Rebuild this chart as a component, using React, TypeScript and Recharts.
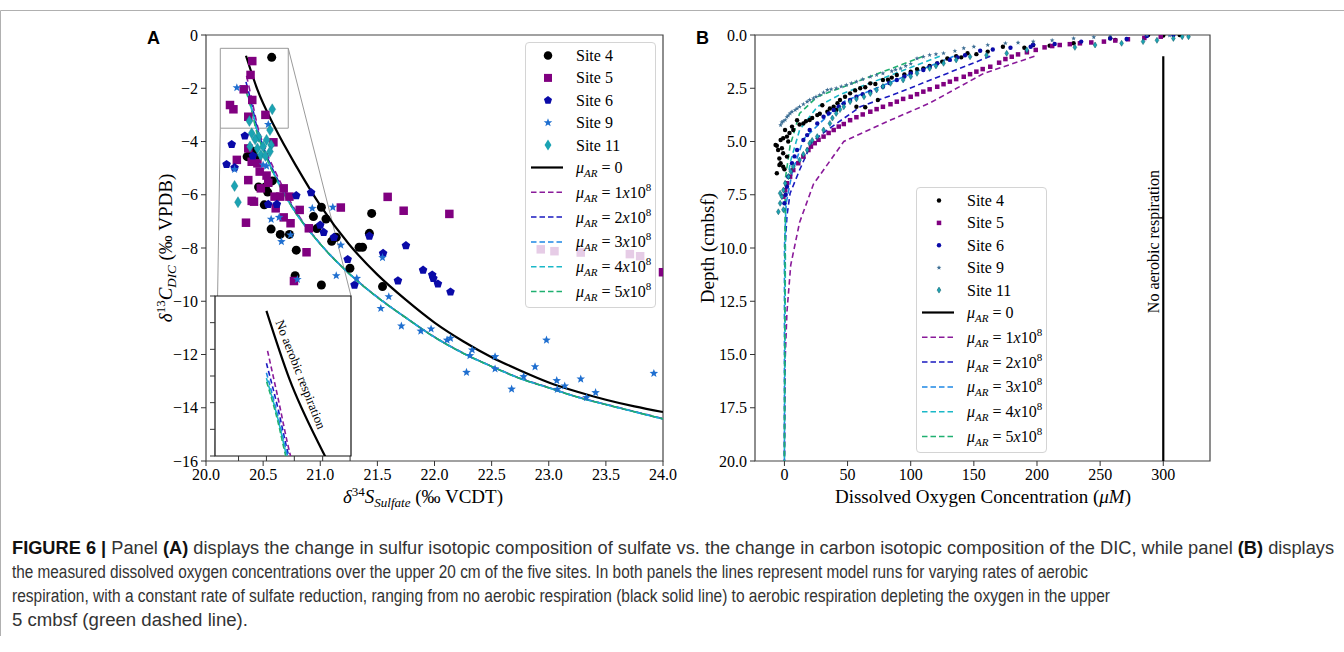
import React from 'react';
import {
  ComposedChart, XAxis, YAxis, Scatter, Line, ReferenceArea, ReferenceLine,
  ReferenceDot, Legend, CartesianGrid,
} from 'recharts';

const SERIF = '"Liberation Serif", "Times New Roman", serif';
const SANS = '"Liberation Sans", Arial, sans-serif';
const NARROW = '"Liberation Sans Narrow", "Liberation Sans", Arial, sans-serif';

// ---------- colours ----------
const C_S4 = '#000000';
const C_S5 = '#800080';
const C_S6 = '#0a0aa8';
const C_S9 = '#1f6fd0';
const C_S11 = '#1ba3b3';
const C_MU0 = '#000000';
const C_MU1 = '#8a1a9a';
const C_MU2 = '#1a1ac0';
const C_MU3 = '#1e88e5';
const C_MU4 = '#1ab8c8';
const C_MU5 = '#1fb070';

// ---------- Panel A : tick labels ----------
const xTicksA = [20, 20.5, 21, 21.5, 22, 22.5, 23, 23.5, 24];
const yTicksA = [0, -2, -4, -6, -8, -10, -12, -14, -16];
const insetXTicks = [20.228, 20.35, 20.472, 20.596, 20.716];
const insetYTicks = [-0.5, -1, -1.5, -2, -2.5, -3, -3.5];

// ---------- Panel A : measured data (d34S sulfate, d13C DIC) ----------
const site4A = [[20.575,-0.84],[20.36,-4.57],[20.39,-4.47],[20.43,-4.62],[20.41,-4.38],[20.46,-5.71],[20.52,-5.71],[20.58,-5.48],[20.51,-6.38],[20.54,-5.9],[20.57,-7.29],[20.65,-7.49],[20.73,-7.49],[20.79,-8.08],[20.78,-9.04],[21.01,-9.39],[20.94,-6.82],[21.01,-6.47],[21.05,-6.91],[20.97,-7.27],[21.1,-7.75],[21.14,-7.6],[21.26,-8.76],[21.34,-7.97],[21.37,-7.97],[21.43,-7.45],[21.45,-6.7],[21.545,-9.45]];
const site5A = [[20.405,-0.98],[20.39,-1.5],[20.33,-2.04],[20.405,-2.44],[20.21,-2.63],[20.24,-2.79],[20.37,-3.07],[20.52,-3.0],[20.37,-4.26],[20.4,-4.76],[20.45,-4.82],[20.47,-5.13],[20.53,-5.28],[20.545,-5.55],[20.37,-5.45],[20.48,-5.76],[20.6,-6.07],[20.65,-6.07],[20.68,-5.76],[20.73,-6.07],[20.4,-6.23],[20.42,-6.26],[20.61,-6.51],[20.82,-6.57],[20.68,-6.85],[20.74,-7.07],[20.35,-7.05],[20.9,-7.26],[21.18,-6.48],[20.88,-8.16],[20.77,-9.24],[21.59,-6.08],[21.73,-6.6],[22.13,-6.72],[22.93,-8.05],[23.05,-8.12],[23.28,-8.17],[23.71,-8.23],[23.8,-8.31],[24.0,-8.91],[20.27,-4.69],[20.59,-4.03]];
const site6A = [[20.225,-4.11],[20.18,-4.86],[20.25,-4.98],[20.34,-3.79],[20.41,-4.54],[20.545,-6.36],[20.62,-6.36],[20.79,-6.03],[20.92,-5.92],[21.0,-7.14],[21.03,-7.41],[21.12,-7.6],[21.24,-8.43],[21.3,-9.39],[21.43,-7.55],[21.55,-8.2],[21.68,-9.23],[21.75,-7.91],[21.9,-8.83],[21.98,-9.01],[21.99,-9.14],[22.03,-9.35],[22.14,-9.65]];
const site9A = [[20.27,-1.98],[20.545,-3.36],[20.5,-4.88],[20.53,-4.92],[20.25,-5.05],[20.57,-6.92],[20.64,-6.85],[20.66,-7.76],[20.74,-7.51],[20.8,-9.18],[20.93,-6.51],[21.11,-6.47],[21.14,-9.04],[21.18,-7.89],[21.32,-9.14],[21.545,-8.36],[21.6,-9.83],[21.53,-10.27],[21.71,-10.93],[21.88,-11.12],[21.97,-11.04],[22.11,-11.46],[22.14,-11.39],[22.33,-11.83],[22.31,-12.04],[22.28,-12.67],[22.53,-12.08],[22.53,-12.54],[22.675,-13.3],[22.78,-12.83],[22.88,-12.46],[22.98,-11.46],[23.07,-12.98],[23.075,-13.31],[23.14,-13.18],[23.28,-12.92],[23.33,-13.62],[23.41,-13.43],[23.92,-12.71]];
const site11A = [[20.58,-2.79],[20.38,-3.23],[20.4,-3.69],[20.46,-3.82],[20.56,-3.57],[20.53,-3.94],[20.57,-4.13],[20.5,-4.19],[20.45,-4.26],[20.385,-4.19],[20.48,-4.51],[20.52,-4.54],[20.25,-5.67],[20.28,-6.28],[20.43,-3.92],[20.56,-4.38]];

// ---------- Panel A : model runs ----------
const mu0A = [[20.35,-0.78],[20.45,-2.05],[20.6,-3.45],[20.8,-5.0],[21.0,-6.4],[21.25,-7.85],[21.5,-9.0],[21.75,-9.95],[22.0,-10.8],[22.25,-11.5],[22.5,-12.1],[22.75,-12.6],[23.0,-13.05],[23.25,-13.4],[23.5,-13.7],[23.75,-13.95],[24.0,-14.16]];
const mu1A = [[20.355,-1.53],[20.4,-2.4],[20.455,-3.49],[20.52,-4.3],[20.62,-5.25],[20.76,-6.42],[21.0,-7.84],[21.25,-8.94],[21.5,-9.84],[21.75,-10.62],[22.0,-11.34],[22.25,-11.94],[22.5,-12.44],[22.75,-12.89],[23.0,-13.24],[23.25,-13.59],[23.5,-13.87],[23.75,-14.14],[24.0,-14.41]];
const mu2A = [[20.35,-1.76],[20.4,-2.6],[20.447,-3.49],[20.51,-4.3],[20.61,-5.28],[20.755,-6.44],[21.0,-7.85],[21.25,-8.95],[21.5,-9.85],[21.75,-10.62],[22.0,-11.35],[22.25,-11.95],[22.5,-12.45],[22.75,-12.9],[23.0,-13.25],[23.25,-13.6],[23.5,-13.88],[23.75,-14.15],[24.0,-14.42]];
const mu3A = [[20.35,-1.94],[20.4,-2.75],[20.442,-3.49],[20.505,-4.3],[20.605,-5.29],[20.752,-6.45],[21.0,-7.85],[21.25,-8.95],[21.5,-9.85],[21.75,-10.62],[22.0,-11.35],[22.25,-11.95],[22.5,-12.45],[22.75,-12.9],[23.0,-13.25],[23.25,-13.6],[23.5,-13.88],[23.75,-14.15],[24.0,-14.42]];
const mu4A = [[20.35,-2.04],[20.4,-2.8],[20.438,-3.49],[20.502,-4.3],[20.602,-5.3],[20.75,-6.45],[21.0,-7.85],[21.25,-8.95],[21.5,-9.85],[21.75,-10.62],[22.0,-11.35],[22.25,-11.95],[22.5,-12.45],[22.75,-12.9],[23.0,-13.25],[23.25,-13.6],[23.5,-13.88],[23.75,-14.15],[24.0,-14.42]];
const mu5A = [[20.351,-2.11],[20.4,-2.85],[20.434,-3.49],[20.5,-4.3],[20.6,-5.3],[20.75,-6.45],[21.0,-7.85],[21.25,-8.95],[21.5,-9.85],[21.75,-10.62],[22.0,-11.35],[22.25,-11.95],[22.5,-12.45],[22.75,-12.9],[23.0,-13.25],[23.25,-13.6],[23.5,-13.88],[23.75,-14.15],[24.0,-14.42]];

// ---------- Panel B : tick labels ----------
const xTicksB = [0, 50, 100, 150, 200, 250, 300];
const yTicksB = [0, 2.5, 5, 7.5, 10, 12.5, 15, 17.5, 20];

// ---------- Panel B : measured O2 (uM, depth cmbsf) ----------
const site4B = [[313,0.0],[300,0.02],[288,0.0],[262,0.23],[258,0.15],[229,0.39],[210,0.5],[197,0.47],[190,0.6],[173,0.55],[161,0.78],[152,0.9],[145,0.86],[140,1.05],[136,0.99],[129,1.1],[125,1.25],[121,1.33],[115,1.45],[110,1.57],[105,1.6],[100,1.72],[95,1.85],[89,1.88],[85,2.0],[82,2.1],[78,2.11],[72,2.3],[68,2.27],[64,2.45],[60,2.5],[56,2.6],[52,2.74],[48,2.9],[44,3.05],[42,3.2],[39,3.37],[36,3.45],[34,3.6],[30,3.3],[28,3.7],[26,3.76],[22,3.9],[20,3.99],[17,4.05],[15,4.15],[12,4.2],[10,4.0],[7,4.46],[6,4.3],[4,4.6],[2,4.77],[0.5,4.46],[-1,4.85],[-3,4.93],[3,5.0],[-7,5.16],[-6,5.2],[-2,5.32],[-5,5.4],[-1,5.55],[2,5.71],[-4,5.8],[-3,6.02],[-1,6.18],[0,6.3],[-6,6.49],[-4,6.1],[74,3.05],[57,3.37],[64,3.39],[41,3.52]];
const site5B = [[298,0.08],[285,0.14],[272,0.2],[262,0.26],[253,0.31],[243,0.35],[234,0.39],[226,0.43],[218,0.47],[212,0.52],[206,0.58],[199,0.7],[192,0.81],[185,0.91],[180,1.02],[175,1.13],[170,1.3],[163,1.49],[157,1.6],[152,1.72],[147,1.84],[142,1.96],[136,2.07],[131,2.19],[126,2.31],[121,2.43],[115,2.55],[110,2.66],[105,2.78],[100,2.9],[94,3.0],[89,3.13],[84,3.25],[78,3.37],[73,3.48],[68,3.6],[62,3.73],[57,3.86],[52,4.0],[47,4.18],[43,4.3],[39,4.46],[35,4.6],[31,4.77],[27,4.92],[24,5.08],[21,5.24],[19,5.4],[15,5.71],[11,6.02],[7,6.34],[4.5,6.65],[2,6.96],[0.6,7.28],[-0.8,7.59]];
const site6B = [[308,0.0],[287,0.05],[271,0.19],[258,0.16],[235,0.31],[214,0.42],[197,0.45],[195,0.55],[179,0.6],[165,0.68],[155,0.74],[143,0.95],[137,1.05],[131,1.17],[121,1.33],[115,1.5],[110,1.64],[100,1.8],[95,1.95],[89,2.11],[83,2.25],[78,2.43],[68,2.66],[62,2.78],[57,2.9],[52,3.05],[47,3.21],[43,3.35],[39,3.52],[35,3.68],[31,3.84],[26,4.15],[20,4.46],[18,4.7],[15,4.93],[10,5.4],[8,5.7],[6,6.02],[3,6.65],[2,7.12],[1,7.5],[0,7.9]];
const site9B = [[320,0.0],[305,0.02],[287,0.0],[258,0.0],[245,0.1],[229,0.16],[212,0.25],[197,0.31],[185,0.36],[175,0.39],[161,0.47],[150,0.55],[142,0.62],[135,0.75],[126,0.86],[120,0.9],[115,0.94],[110,1.02],[105,1.1],[100,1.35],[96,1.45],[92,1.57],[88,1.63],[85,1.7],[78,1.8],[73,1.88],[68,1.96],[62,2.08],[57,2.19],[53,2.27],[49,2.35],[45,2.42],[41,2.5],[37,2.55],[34,2.58],[31,2.7],[28,2.82],[25,2.9],[23,2.97],[20,3.05],[18,3.13],[15,3.25],[12,3.37],[10,3.45],[8.5,3.52],[6,3.6],[4.5,3.68],[3,3.78],[2,3.85],[0.6,3.99],[-1,4.05],[-2,4.1],[-3,4.23]];
const site11B = [[320,0.08],[315,0.08],[308,0.16],[295,0.25],[284,0.31],[267,0.39],[246,0.47],[230,0.58],[192,0.7],[176,0.86],[160,0.95],[147,1.02],[136,1.17],[126,1.33],[120,1.45],[115,1.57],[105,1.8],[100,1.95],[94,2.11],[84,2.27],[78,2.42],[73,2.58],[68,2.75],[63,2.9],[57,3.0],[52,3.13],[47,3.37],[44,3.5],[41,3.68],[38,3.9],[36,4.15],[31,4.46],[26,4.77],[22,4.95],[20,5.08],[18,5.4],[15,5.6],[12,5.87],[7,6.18],[5,6.4],[3.2,6.65],[0.6,6.96],[-0.8,7.28],[-3.4,7.43],[-2,7.59],[-3.4,7.9],[-0.8,8.2],[-4.8,8.3]];

// ---------- Panel B : model runs ----------
const mu0B = [[300,1.0],[300,20]];
const mu1B = [[198,1.0],[158,1.8],[115,3.2],[78,4.15],[47,5.0],[23,7.0],[12,8.8],[5,10.8],[2,13],[0.5,15.4],[0,20]];
const mu2B = [[163,1.0],[89,2.74],[60,3.37],[34,4.46],[22,5.0],[12,6.34],[4.5,7.43],[2,8.5],[0.5,10],[0,20]];
const mu3B = [[134,1.0],[48,3.1],[34,3.8],[15,4.9],[6,6.5],[1.4,7.9],[0,10],[0,20]];
const mu4B = [[123,1.0],[44,2.8],[26,3.37],[12,4.46],[4.5,6.0],[1,7.5],[0,20]];
const mu5B = [[110,1.0],[26,2.9],[12,3.68],[4.5,5.2],[0.6,6.8],[0,20]];

const pts = (a: number[][]) => a.map(([x, y]) => ({ x, y }));

// ---------- markers ----------
type Kind = 'circle' | 'square' | 'pentagon' | 'star' | 'diamond';

function drawMarker(kind: Kind, cx: number, cy: number, s: number, fill: string, stroke = 'none', sw = 0) {
  const common = { fill, stroke, strokeWidth: sw };
  if (kind === 'circle') return <circle cx={cx} cy={cy} r={s / 2} {...common} />;
  if (kind === 'square') return <rect x={cx - s / 2} y={cy - s / 2} width={s} height={s} {...common} />;
  if (kind === 'pentagon') {
    const r = s / 2;
    const p = [0, 1, 2, 3, 4].map((k) => {
      const a = -Math.PI / 2 + (k * 2 * Math.PI) / 5;
      return `${cx + r * Math.cos(a)},${cy + r * Math.sin(a)}`;
    }).join(' ');
    return <polygon points={p} {...common} />;
  }
  if (kind === 'star') {
    const R = s / 2, r = R * 0.42;
    const p = Array.from({ length: 10 }, (_, k) => {
      const a = -Math.PI / 2 + (k * Math.PI) / 5;
      const rr = k % 2 === 0 ? R : r;
      return `${cx + rr * Math.cos(a)},${cy + rr * Math.sin(a)}`;
    }).join(' ');
    return <polygon points={p} {...common} />;
  }
  const w = s * 0.62, h = s;
  return <polygon points={`${cx},${cy - h / 2} ${cx + w / 2},${cy} ${cx},${cy + h / 2} ${cx - w / 2},${cy}`} {...common} />;
}

const shape = (kind: Kind, s: number, fill: string, stroke = 'none', sw = 0) => (p: any) =>
  p.cx == null || p.cy == null ? <g /> : drawMarker(kind, p.cx, p.cy, s, fill, stroke, sw);

// ---------- legend ----------
type Row = { kind?: Kind; color: string; label?: string; mu?: number; dash?: boolean; lw?: number; stroke?: string };
const ROW_Y = [12.5, 34.9, 57.3, 79.7, 102.1, 124.5, 149.3, 174.1, 198.9, 223.7, 248.5];

function MuText({ x, y, n }: { x: number; y: number; n: number }) {
  return (
    <text x={x} y={y} fontFamily={SERIF} fontSize={16} fill="#000">
      <tspan fontStyle="italic">μ</tspan>
      <tspan fontStyle="italic" fontSize={11} dy={4}>AR</tspan>
      <tspan dy={-4}>{n === 0 ? ' = 0' : ` = ${n}`}</tspan>
      {n !== 0 && <tspan fontStyle="italic">x</tspan>}
      {n !== 0 && <tspan>10</tspan>}
      {n !== 0 && <tspan fontSize={11} dy={-7}>8</tspan>}
    </text>
  );
}

function LegendBox({ rows, markerSizes }: { rows: Row[]; markerSizes: number[] }) {
  return (
    <div style={{ width: 131, height: 266, boxSizing: 'border-box', background: 'rgba(255,255,255,0.8)', border: '1px solid #d4d4d4', borderRadius: 4 }}>
      <svg width={129} height={264} style={{ display: 'block' }}>
        {rows.map((r, i) => {
          const cy = ROW_Y[i];
          if (r.kind) {
            return (
              <g key={i}>
                {drawMarker(r.kind, 22, cy, markerSizes[i], r.color, r.stroke || 'none', r.stroke ? 0.5 : 0)}
                <text x={50} y={cy + 5.5} fontFamily={SERIF} fontSize={16} fill="#000">{r.label}</text>
              </g>
            );
          }
          return (
            <g key={i}>
              <line x1={5} x2={37} y1={cy} y2={cy} stroke={r.color} strokeWidth={r.lw || 1.5} strokeDasharray={r.dash ? '5.5 3' : undefined} />
              <MuText x={50} y={cy + 5.5} n={r.mu || 0} />
            </g>
          );
        })}
      </svg>
    </div>
  );
}

const legendRowsA: Row[] = [
  { kind: 'circle', color: C_S4, label: 'Site 4' },
  { kind: 'square', color: C_S5, label: 'Site 5' },
  { kind: 'pentagon', color: C_S6, label: 'Site 6' },
  { kind: 'star', color: C_S9, label: 'Site 9' },
  { kind: 'diamond', color: C_S11, label: 'Site 11' },
  { color: C_MU0, mu: 0, lw: 2.2 },
  { color: C_MU1, mu: 1, dash: true },
  { color: C_MU2, mu: 2, dash: true },
  { color: C_MU3, mu: 3, dash: true },
  { color: C_MU4, mu: 4, dash: true },
  { color: C_MU5, mu: 5, dash: true },
];
const legendRowsB: Row[] = [
  { kind: 'circle', color: C_S4, label: 'Site 4' },
  { kind: 'square', color: C_S5, label: 'Site 5' },
  { kind: 'circle', color: C_S6, label: 'Site 6' },
  { kind: 'star', color: '#3d6e94', label: 'Site 9' },
  { kind: 'diamond', color: C_S11, label: 'Site 11', stroke: '#0c5560' },
  ...legendRowsA.slice(5),
];

const tickStyle = { fontFamily: SERIF, fontSize: 16, fill: '#000' };
const fmtA = (v: number) => (v === 0 ? '0' : `\u2212${Math.abs(v)}`);

// dash styling so that overlapping model runs read as one teal line in the main view
const dashCfgA = [
  { c: C_MU1, off: 0 }, { c: C_MU2, off: 0 }, { c: C_MU3, off: 0 }, { c: C_MU4, off: 5 }, { c: C_MU5, off: 0 },
];
const seriesA = [mu1A, mu2A, mu3A, mu4A, mu5A];
const seriesB = [mu1B, mu2B, mu3B, mu4B, mu5B];

// ---------- Panel A ----------
function PanelA() {
  return (
    <div style={{ position: 'absolute', left: 0, top: 0 }}>
      <ComposedChart width={700} height={520} margin={{ top: 35, right: 37, bottom: 29, left: 146 }}>
        <XAxis type="number" dataKey="x" domain={[20, 24]} ticks={xTicksA} allowDataOverflow
          tickFormatter={(v: number) => v.toFixed(1)} axisLine={false} tickLine={{ stroke: '#333' }}
          tickSize={5} tickMargin={3} tick={tickStyle} height={30} />
        <YAxis type="number" dataKey="y" domain={[-16, 0]} ticks={yTicksA} allowDataOverflow
          tickFormatter={fmtA} axisLine={false} tickLine={{ stroke: '#333' }} tickSize={5} tickMargin={3}
          tick={tickStyle} width={60} />
        <ReferenceArea x1={20.125} x2={20.72} y1={-3.5} y2={-0.5} fill="none" stroke="#9a9a9a" strokeWidth={1} fillOpacity={0} />
        <ReferenceLine segment={[{ x: 20.125, y: -3.5 }, { x: 20.079, y: -15.8 }]} stroke="#9a9a9a" strokeWidth={1} />
        <ReferenceLine segment={[{ x: 20.72, y: -0.5 }, { x: 21.269, y: -9.8 }]} stroke="#9a9a9a" strokeWidth={1} />
        <Scatter name="Site 4" data={pts(site4A)} shape={shape('circle', 9, C_S4)} isAnimationActive={false} />
        <Scatter name="Site 5" data={pts(site5A)} shape={shape('square', 8.5, C_S5)} isAnimationActive={false} />
        <Scatter name="Site 6" data={pts(site6A)} shape={shape('pentagon', 9, C_S6)} isAnimationActive={false} />
        <Scatter name="Site 9" data={pts(site9A)} shape={shape('star', 9, C_S9)} isAnimationActive={false} />
        <Scatter name="Site 11" data={pts(site11A)} shape={shape('diamond', 11, C_S11, '#0f7f8a', 0.4)} isAnimationActive={false} />
        <Line data={pts(mu0A)} dataKey="y" type="monotone" stroke={C_MU0} strokeWidth={2.2} dot={false} isAnimationActive={false} />
        {seriesA.map((d, i) => (
          <Line key={i} data={pts(d)} dataKey="y" type="monotone" stroke={dashCfgA[i].c} strokeWidth={1.6}
            strokeDasharray="6 4" strokeDashoffset={dashCfgA[i].off} dot={false} isAnimationActive={false} />
        ))}
        <ReferenceArea x1={20} x2={24} y1={-16} y2={0} fill="none" fillOpacity={0} stroke="#444" strokeWidth={1.2} />
        <Legend layout="vertical" align="center" verticalAlign="middle"
          wrapperStyle={{ left: 525, top: 42, width: 131, height: 266 }}
          content={() => <LegendBox rows={legendRowsA} markerSizes={[8.5, 8, 8.5, 9, 11, 0, 0, 0, 0, 0, 0]} />} />
      </ComposedChart>
    </div>
  );
}

// ---------- Inset ----------
function Inset() {
  return (
    <div style={{ position: 'absolute', left: 195, top: 290 }}>
      <ComposedChart width={166} height={180} margin={{ top: 6, right: 10, bottom: 4, left: 10 }}>
        <CartesianGrid fill="#ffffff" fillOpacity={1} horizontal={false} vertical={false} />
        <XAxis type="number" dataKey="x" domain={[20.125, 20.72]} ticks={insetXTicks} allowDataOverflow
          tickFormatter={() => ''} axisLine={false} tickLine={{ stroke: '#333' }} tickSize={5} height={10} />
        <YAxis type="number" dataKey="y" domain={[-3.5, -0.5]} ticks={insetYTicks} allowDataOverflow
          tickFormatter={() => ''} axisLine={false} tickLine={{ stroke: '#333' }} tickSize={5} width={10} />
        <Line data={pts(mu0A)} dataKey="y" type="monotone" stroke={C_MU0} strokeWidth={2.2} dot={false} isAnimationActive={false} />
        {seriesA.map((d, i) => (
          <Line key={i} data={pts(d)} dataKey="y" type="monotone" stroke={dashCfgA[i].c} strokeWidth={1.6}
            strokeDasharray="5 3" dot={false} isAnimationActive={false} />
        ))}
        <ReferenceDot x={20.5} y={-1.97} r={0} ifOverflow="visible"
          shape={(p: any) => (
            <text x={p.cx} y={p.cy} transform={`rotate(68.4 ${p.cx} ${p.cy})`} textAnchor="middle"
              dominantBaseline="central" fontFamily={SERIF} fontSize={13} fill="#000">No aerobic respiration</text>
          )} />
        <ReferenceArea x1={20.125} x2={20.72} y1={-3.5} y2={-0.5} fill="none" fillOpacity={0} stroke="#111" strokeWidth={1.2} />
      </ComposedChart>
    </div>
  );
}

// ---------- Panel B ----------
function PanelB() {
  return (
    <div style={{ position: 'absolute', left: 690, top: 0 }}>
      <ComposedChart width={540} height={520} margin={{ top: 35, right: 20, bottom: 29, left: 15 }}>
        <XAxis type="number" dataKey="x" domain={[-23.3, 337]} ticks={xTicksB} allowDataOverflow
          axisLine={false} tickLine={{ stroke: '#333' }} tickSize={5} tickMargin={3} tick={tickStyle} height={30} />
        <YAxis type="number" dataKey="y" domain={[0, 20]} reversed ticks={yTicksB} allowDataOverflow
          tickFormatter={(v: number) => v.toFixed(1)} axisLine={false} tickLine={{ stroke: '#333' }}
          tickSize={5} tickMargin={3} tick={tickStyle} width={50} />
        <Scatter name="Site 4" data={pts(site4B)} shape={shape('circle', 4.4, C_S4)} isAnimationActive={false} />
        <Scatter name="Site 5" data={pts(site5B)} shape={shape('square', 4.5, C_S5)} isAnimationActive={false} />
        <Scatter name="Site 6" data={pts(site6B)} shape={shape('circle', 4.4, C_S6)} isAnimationActive={false} />
        <Scatter name="Site 9" data={pts(site9B)} shape={shape('star', 5, '#3d6e94')} isAnimationActive={false} />
        <Scatter name="Site 11" data={pts(site11B)} shape={shape('diamond', 6, C_S11, '#0c5560', 0.5)} isAnimationActive={false} />
        <Line data={pts(mu0B)} dataKey="y" type="linear" stroke={C_MU0} strokeWidth={2.2} dot={false} isAnimationActive={false} />
        {seriesB.map((d, i) => (
          <Line key={i} data={pts(d)} dataKey="y" type="linear" stroke={dashCfgA[i].c} strokeWidth={1.6}
            strokeDasharray="5.5 3.5" dot={false} isAnimationActive={false} />
        ))}
        <ReferenceDot x={292} y={9.7} r={0} ifOverflow="visible"
          shape={(p: any) => (
            <text x={p.cx} y={p.cy} transform={`rotate(-90 ${p.cx} ${p.cy})`} textAnchor="middle"
              dominantBaseline="central" fontFamily={SERIF} fontSize={16} fill="#000">No aerobic respiration</text>
          )} />
        <ReferenceArea x1={-23.3} x2={337} y1={0} y2={20} fill="none" fillOpacity={0} stroke="#444" strokeWidth={1.2} />
        <Legend layout="vertical" align="center" verticalAlign="middle"
          wrapperStyle={{ left: 226, top: 187, width: 131, height: 266 }}
          content={() => <LegendBox rows={legendRowsB} markerSizes={[4.4, 4.5, 4.4, 5, 6, 0, 0, 0, 0, 0, 0]} />} />
      </ComposedChart>
    </div>
  );
}

// ---------- caption ----------
const captionLines = [
  { w: 1322, parts: [
    { t: 'FIGURE 6 | ', b: true }, { t: 'Panel ' }, { t: '(A)', b: true },
    { t: ' displays the change in sulfur isotopic composition of sulfate vs. the change in carbon isotopic composition of the DIC, while panel ' },
    { t: '(B)', b: true }, { t: ' displays' },
  ] },
  { w: 1076, parts: [{ t: 'the measured dissolved oxygen concentrations over the upper 20 cm of the five sites. In both panels the lines represent model runs for varying rates of aerobic' }] },
  { w: 1098, parts: [{ t: 'respiration, with a constant rate of sulfate reduction, ranging from no aerobic respiration (black solid line) to aerobic respiration depleting the oxygen in the upper' }] },
  { w: 236, parts: [{ t: '5 cmbsf (green dashed line).' }] },
];

function Overlay() {
  return (
    <svg width={1344} height={652} style={{ position: 'absolute', left: 0, top: 0, pointerEvents: 'none' }}>
      <line x1={0.5} y1={10.5} x2={1344} y2={10.5} stroke="#b0b0b0" strokeWidth={1} />
      <line x1={0.5} y1={10.5} x2={0.5} y2={636} stroke="#b0b0b0" strokeWidth={1} />
      <text x={147} y={44} fontFamily={SANS} fontWeight="bold" fontSize={18} fill="#000">A</text>
      <text x={696} y={44} fontFamily={SANS} fontWeight="bold" fontSize={18} fill="#000">B</text>
      <text x={423} y={503} textAnchor="middle" fontFamily={SERIF} fontSize={19} fill="#000">
        <tspan fontStyle="italic">δ</tspan>
        <tspan fontSize={13} dy={-7}>34</tspan>
        <tspan fontStyle="italic" dy={7}>S</tspan>
        <tspan fontStyle="italic" fontSize={13} dy={4}>Sulfate</tspan>
        <tspan dy={-4}> (‰ VCDT)</tspan>
      </text>
      <text transform="translate(172,248) rotate(-90)" textAnchor="middle" fontFamily={SERIF} fontSize={19} fill="#000">
        <tspan fontStyle="italic">δ</tspan>
        <tspan fontSize={13} dy={-7}>13</tspan>
        <tspan fontStyle="italic" dy={7}>C</tspan>
        <tspan fontStyle="italic" fontSize={13} dy={4}>DIC</tspan>
        <tspan dy={-4}> (‰ VPDB)</tspan>
      </text>
      <text x={983} y={503} textAnchor="middle" fontFamily={SERIF} fontSize={19} fill="#000">
        Dissolved Oxygen Concentration (<tspan fontStyle="italic">μM</tspan>)
      </text>
      <text transform="translate(714,248) rotate(-90)" textAnchor="middle" fontFamily={SERIF} fontSize={19} fill="#000">
        Depth (cmbsf)
      </text>
      {captionLines.map((ln, i) => (
        <text key={i} x={12} y={554 + i * 24} fontFamily={NARROW} fontSize={18} fill="#333"
          textLength={ln.w} lengthAdjust="spacingAndGlyphs">
          {ln.parts.map((p: any, j) => (
            <tspan key={j} fontWeight={p.b ? 'bold' : 'normal'} fill={p.b ? '#111' : '#333'}>{p.t}</tspan>
          ))}
        </text>
      ))}
    </svg>
  );
}

export default function App() {
  return (
    <div style={{ position: 'relative', width: 1344, height: 652, background: '#fff', overflow: 'hidden' }}>
      <style>{'body{margin:0;}'}</style>
      <PanelA />
      <Inset />
      <PanelB />
      <Overlay />
    </div>
  );
}
